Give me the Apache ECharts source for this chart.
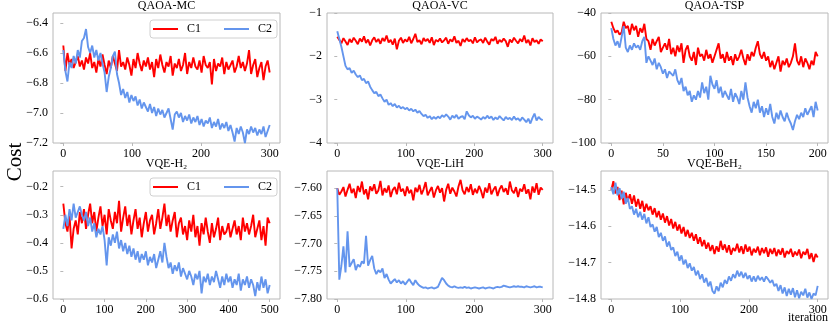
<!DOCTYPE html>
<html><head><meta charset="utf-8">
<script src="https://cdn.jsdelivr.net/npm/echarts@6/dist/echarts.min.js"></script>
<style>html,body{margin:0;padding:0;background:#fff}#c{width:830px;height:325px}</style>
</head><body><div id="c"></div>
<script>
// ---------- data ----------
const titles = ['QAOA-MC', 'QAOA-VC', 'QAOA-TSP', 'VQE-H₂', 'VQE-LiH', 'VQE-BeH₂'];
const seriesNames = ['C1', 'C2'];
const iterStep = [3, 3, 2, 5, 3, 3];
const xTickLabels = [[0,100,200,300],[0,100,200,300],[0,50,100,150,200],[0,100,200,300,400,500],[0,100,200,300],[0,100,200,300]];
const yTickLabels = [[-7.2,-7.0,-6.8,-6.6,-6.4],[-4,-3,-2,-1],[-100,-80,-60,-40],[-0.6,-0.5,-0.4,-0.3,-0.2],[-7.80,-7.75,-7.70,-7.65,-7.60],[-14.8,-14.7,-14.6,-14.5]];
const xExtent = [[-15,315],[-15,315],[-10,210],[-25,525],[-15,315],[-15,315]];
const yExtent = [[-7.2,-6.333],[-4,-1],[-100,-40],[-0.6,-0.144],[-7.80,-7.569],[-14.8,-14.448]];
const yDecimals = [1, 0, 0, 1, 2, 1];

const mcC1 = [
-6.55,-6.72,-6.60,-6.68,-6.64,-6.70,-6.66,-6.62,-6.69,-6.65,
-6.71,-6.63,-6.67,-6.60,-6.70,-6.66,-6.73,-6.64,-6.69,-6.61,
-6.68,-6.74,-6.65,-6.70,-6.62,-6.67,-6.72,-6.58,-6.69,-6.66,
-6.71,-6.63,-6.68,-6.75,-6.64,-6.70,-6.60,-6.67,-6.72,-6.65,
-6.69,-6.63,-6.71,-6.66,-6.76,-6.64,-6.70,-6.61,-6.68,-6.73,
-6.66,-6.69,-6.62,-6.75,-6.67,-6.70,-6.64,-6.72,-6.68,-6.60,
-6.74,-6.66,-6.70,-6.63,-6.69,-6.71,-6.65,-6.73,-6.62,-6.68,
-6.70,-6.66,-6.81,-6.64,-6.72,-6.67,-6.69,-6.63,-6.74,-6.66,
-6.71,-6.68,-6.65,-6.73,-6.69,-6.62,-6.70,-6.66,-6.72,-6.67,
-6.58,-6.74,-6.68,-6.64,-6.76,-6.70,-6.66,-6.78,-6.69,-6.65,
-6.73];
const mcC2 = [
-6.58,-6.72,-6.79,-6.66,-6.70,-6.62,-6.67,-6.58,-6.63,-6.52,
-6.50,-6.44,-6.56,-6.60,-6.55,-6.63,-6.58,-6.65,-6.60,-6.67,
-6.73,-6.86,-6.76,-6.70,-6.62,-6.59,-6.74,-6.80,-6.88,-6.84,
-6.90,-6.86,-6.93,-6.88,-6.92,-6.89,-6.95,-6.91,-6.97,-6.93,
-6.96,-6.99,-6.94,-7.00,-6.96,-7.02,-6.97,-7.01,-6.98,-7.03,
-7.00,-6.97,-7.04,-7.11,-7.01,-6.99,-7.03,-7.00,-7.06,-7.02,
-7.05,-7.01,-7.07,-7.03,-7.06,-7.02,-7.08,-7.04,-7.09,-7.05,
-7.07,-7.03,-7.10,-7.06,-7.09,-7.04,-7.11,-7.07,-7.10,-7.06,
-7.12,-7.08,-7.13,-7.19,-7.10,-7.14,-7.09,-7.13,-7.20,-7.11,
-7.14,-7.09,-7.13,-7.10,-7.15,-7.11,-7.14,-7.09,-7.16,-7.12,
-7.08];
const vcC1 = [
-1.55,-1.62,-1.70,-1.58,-1.66,-1.74,-1.60,-1.68,-1.57,-1.64,
-1.72,-1.59,-1.66,-1.54,-1.69,-1.61,-1.75,-1.63,-1.56,-1.67,
-1.60,-1.71,-1.58,-1.65,-1.52,-1.68,-1.62,-1.73,-1.59,-1.84,
-1.64,-1.57,-1.69,-1.61,-1.66,-1.55,-1.70,-1.60,-1.48,-1.67,
-1.63,-1.72,-1.58,-1.65,-1.60,-1.69,-1.56,-1.74,-1.62,-1.66,
-1.59,-1.68,-1.63,-1.57,-1.71,-1.61,-1.66,-1.54,-1.69,-1.64,
-1.76,-1.60,-1.67,-1.58,-1.65,-1.62,-1.70,-1.56,-1.68,-1.63,
-1.61,-1.69,-1.57,-1.66,-1.73,-1.60,-1.64,-1.55,-1.71,-1.62,
-1.67,-1.59,-1.65,-1.78,-1.61,-1.68,-1.57,-1.64,-1.70,-1.60,
-1.66,-1.52,-1.69,-1.62,-1.75,-1.58,-1.67,-1.63,-1.71,-1.61,
-1.65];
const vcC2 = [
-1.42,-1.60,-1.78,-2.00,-2.22,-2.30,-2.27,-2.38,-2.33,-2.42,
-2.48,-2.44,-2.55,-2.52,-2.62,-2.58,-2.70,-2.78,-2.85,-2.82,
-2.92,-2.88,-2.97,-3.05,-3.00,-3.12,-3.08,-3.15,-3.10,-3.18,
-3.14,-3.20,-3.17,-3.22,-3.19,-3.25,-3.21,-3.27,-3.23,-3.30,
-3.26,-3.33,-3.38,-3.35,-3.42,-3.38,-3.45,-3.40,-3.44,-3.39,
-3.43,-3.36,-3.40,-3.34,-3.39,-3.46,-3.37,-3.42,-3.35,-3.44,
-3.40,-3.38,-3.45,-3.27,-3.36,-3.41,-3.37,-3.44,-3.39,-3.42,
-3.46,-3.40,-3.44,-3.37,-3.43,-3.39,-3.47,-3.41,-3.45,-3.38,
-3.43,-3.48,-3.40,-3.45,-3.42,-3.47,-3.39,-3.46,-3.43,-3.49,
-3.41,-3.46,-3.52,-3.44,-3.55,-3.42,-3.32,-3.48,-3.40,-3.45,
-3.47];
const tspC1 = [
-44,-47,-49,-48,-50,-49,-44,-47,-46,-50,
-45,-48,-46,-51,-47,-49,-45,-52,-53,-57,
-52,-55,-53,-51,-58,-56,-54,-57,-52,-59,
-56,-60,-55,-58,-54,-63,-57,-55,-60,-62,
-58,-64,-56,-60,-59,-62,-57,-61,-59,-63,
-60,-57,-54,-61,-59,-63,-58,-62,-60,-64,
-59,-62,-60,-57,-61,-64,-59,-62,-58,-60,
-56,-53,-59,-61,-58,-62,-60,-65,-62,-66,
-63,-60,-67,-62,-64,-61,-65,-63,-60,-54,
-62,-64,-60,-65,-61,-63,-66,-62,-64,-58,
-60];
const tspC2 = [
-47,-52,-55,-53,-56,-51,-46,-56,-58,-55,
-57,-54,-56,-55,-57,-53,-51,-63,-60,-62,
-64,-61,-66,-63,-65,-68,-66,-70,-67,-68,
-69,-66,-71,-73,-70,-76,-74,-78,-76,-81,
-78,-80,-76,-79,-72,-77,-74,-80,-69,-73,
-75,-71,-77,-74,-79,-76,-78,-80,-75,-81,
-77,-79,-82,-76,-80,-72,-79,-83,-86,-81,
-84,-80,-86,-83,-88,-84,-87,-82,-88,-91,
-86,-89,-85,-88,-90,-86,-89,-91,-94,-90,
-87,-89,-86,-88,-84,-87,-85,-83,-88,-81,
-85];
const h2C1 = [
-0.26,-0.33,-0.36,-0.30,-0.42,-0.35,-0.32,-0.37,-0.29,-0.33,
-0.28,-0.35,-0.30,-0.26,-0.33,-0.29,-0.36,-0.31,-0.27,-0.34,
-0.30,-0.37,-0.28,-0.32,-0.35,-0.29,-0.33,-0.25,-0.36,-0.31,
-0.27,-0.34,-0.30,-0.37,-0.32,-0.28,-0.35,-0.31,-0.38,-0.33,
-0.29,-0.36,-0.32,-0.30,-0.37,-0.33,-0.28,-0.35,-0.31,-0.26,
-0.34,-0.30,-0.36,-0.32,-0.29,-0.38,-0.33,-0.31,-0.37,-0.34,
-0.39,-0.32,-0.36,-0.30,-0.38,-0.34,-0.41,-0.33,-0.37,-0.31,
-0.36,-0.40,-0.33,-0.38,-0.35,-0.31,-0.39,-0.34,-0.37,-0.36,
-0.33,-0.38,-0.35,-0.32,-0.37,-0.34,-0.39,-0.31,-0.36,-0.33,
-0.37,-0.34,-0.30,-0.38,-0.35,-0.32,-0.39,-0.34,-0.41,-0.31,
-0.33];
const h2C2 = [
-0.35,-0.30,-0.34,-0.28,-0.32,-0.26,-0.31,-0.29,-0.27,-0.30,
-0.32,-0.29,-0.34,-0.31,-0.36,-0.33,-0.38,-0.35,-0.37,-0.34,
-0.39,-0.48,-0.38,-0.41,-0.37,-0.40,-0.36,-0.42,-0.39,-0.43,
-0.40,-0.44,-0.41,-0.45,-0.42,-0.46,-0.43,-0.47,-0.44,-0.46,
-0.43,-0.48,-0.45,-0.47,-0.44,-0.49,-0.46,-0.43,-0.47,-0.40,
-0.45,-0.49,-0.47,-0.51,-0.48,-0.50,-0.47,-0.52,-0.49,-0.51,
-0.53,-0.50,-0.52,-0.55,-0.51,-0.53,-0.50,-0.58,-0.52,-0.54,
-0.51,-0.55,-0.52,-0.54,-0.50,-0.53,-0.56,-0.52,-0.55,-0.51,
-0.54,-0.52,-0.56,-0.53,-0.55,-0.51,-0.57,-0.53,-0.55,-0.52,
-0.56,-0.53,-0.55,-0.59,-0.54,-0.57,-0.52,-0.56,-0.53,-0.58,
-0.55];
const lihC1 = [
-7.600,-7.612,-7.606,-7.598,-7.615,-7.603,-7.592,-7.609,-7.601,-7.618,
-7.596,-7.607,-7.588,-7.611,-7.602,-7.620,-7.597,-7.605,-7.593,-7.610,
-7.604,-7.587,-7.613,-7.600,-7.608,-7.595,-7.616,-7.603,-7.598,-7.611,
-7.590,-7.606,-7.601,-7.614,-7.597,-7.609,-7.603,-7.622,-7.599,-7.607,
-7.594,-7.611,-7.602,-7.589,-7.613,-7.605,-7.598,-7.617,-7.604,-7.596,
-7.608,-7.600,-7.624,-7.603,-7.592,-7.610,-7.599,-7.606,-7.615,-7.597,
-7.585,-7.604,-7.611,-7.598,-7.607,-7.593,-7.612,-7.601,-7.609,-7.596,
-7.605,-7.618,-7.599,-7.608,-7.591,-7.611,-7.603,-7.597,-7.614,-7.602,
-7.595,-7.607,-7.600,-7.612,-7.588,-7.604,-7.609,-7.598,-7.616,-7.601,
-7.606,-7.593,-7.610,-7.602,-7.620,-7.597,-7.608,-7.591,-7.612,-7.599,
-7.603];
const lihC2 = [
-7.600,-7.765,-7.740,-7.705,-7.752,-7.678,-7.742,-7.735,-7.728,-7.748,
-7.738,-7.742,-7.732,-7.736,-7.686,-7.740,-7.730,-7.722,-7.745,-7.755,
-7.748,-7.752,-7.745,-7.762,-7.755,-7.765,-7.772,-7.768,-7.764,-7.770,
-7.766,-7.772,-7.768,-7.774,-7.769,-7.764,-7.770,-7.775,-7.766,-7.772,
-7.776,-7.778,-7.780,-7.779,-7.781,-7.780,-7.779,-7.781,-7.780,-7.778,
-7.770,-7.762,-7.766,-7.772,-7.776,-7.778,-7.779,-7.777,-7.779,-7.780,
-7.779,-7.780,-7.778,-7.780,-7.779,-7.781,-7.780,-7.779,-7.780,-7.781,
-7.780,-7.779,-7.781,-7.780,-7.779,-7.780,-7.781,-7.779,-7.778,-7.779,
-7.778,-7.776,-7.777,-7.778,-7.779,-7.778,-7.777,-7.778,-7.777,-7.778,
-7.778,-7.779,-7.777,-7.778,-7.779,-7.778,-7.777,-7.779,-7.778,-7.778,
-7.779];
const beh2C1 = [
-14.500,-14.476,-14.510,-14.492,-14.528,-14.502,-14.540,-14.508,-14.530,-14.512,
-14.538,-14.515,-14.546,-14.525,-14.552,-14.530,-14.560,-14.538,-14.556,-14.545,
-14.568,-14.550,-14.575,-14.558,-14.582,-14.565,-14.590,-14.572,-14.598,-14.580,
-14.606,-14.588,-14.612,-14.595,-14.620,-14.602,-14.628,-14.610,-14.632,-14.618,
-14.640,-14.622,-14.648,-14.630,-14.655,-14.638,-14.662,-14.645,-14.668,-14.652,
-14.676,-14.655,-14.670,-14.640,-14.665,-14.650,-14.672,-14.652,-14.678,-14.660,
-14.668,-14.648,-14.672,-14.655,-14.676,-14.650,-14.670,-14.656,-14.680,-14.662,
-14.672,-14.656,-14.680,-14.660,-14.674,-14.658,-14.684,-14.662,-14.676,-14.660,
-14.682,-14.664,-14.678,-14.660,-14.686,-14.668,-14.676,-14.662,-14.684,-14.670,
-14.680,-14.664,-14.688,-14.670,-14.678,-14.662,-14.690,-14.674,-14.698,-14.676,
-14.686];
const beh2C2 = [
-14.492,-14.512,-14.480,-14.515,-14.495,-14.525,-14.505,-14.538,-14.522,-14.552,
-14.545,-14.568,-14.552,-14.575,-14.560,-14.582,-14.566,-14.592,-14.575,-14.602,
-14.595,-14.615,-14.602,-14.630,-14.618,-14.640,-14.628,-14.656,-14.642,-14.665,
-14.658,-14.682,-14.670,-14.695,-14.680,-14.705,-14.692,-14.715,-14.702,-14.722,
-14.712,-14.735,-14.722,-14.745,-14.732,-14.755,-14.742,-14.765,-14.752,-14.778,
-14.785,-14.765,-14.778,-14.755,-14.768,-14.748,-14.758,-14.738,-14.750,-14.732,
-14.742,-14.722,-14.738,-14.725,-14.742,-14.728,-14.745,-14.735,-14.752,-14.738,
-14.752,-14.736,-14.748,-14.740,-14.752,-14.738,-14.746,-14.755,-14.748,-14.765,
-14.758,-14.778,-14.762,-14.785,-14.768,-14.792,-14.772,-14.788,-14.770,-14.795,
-14.776,-14.798,-14.780,-14.790,-14.772,-14.796,-14.782,-14.800,-14.785,-14.790,
-14.764];

const panelData = [[mcC1, mcC2], [vcC1, vcC2], [tspC1, tspC2], [h2C1, h2C2], [lihC1, lihC2], [beh2C1, beh2C2]];

// ---------- layout / style ----------
const FONT = '"Liberation Serif", "DejaVu Serif", serif';
const COLORS = ['#ff0000', '#6495ed'];
const gridBoxes = [
  {left: 53, top: 13, width: 227, height: 130},
  {left: 327, top: 13, width: 226, height: 130},
  {left: 601, top: 13, width: 227, height: 130},
  {left: 53, top: 171, width: 227, height: 128},
  {left: 327, top: 171, width: 226, height: 128},
  {left: 601, top: 171, width: 227, height: 128}
];
const fmtNum = (v, d) => (v < 0 ? '\u2212' : '') + Math.abs(v).toFixed(d);

const grid = [], xAxis = [], yAxis = [], series = [], graphic = [];
gridBoxes.forEach((g, i) => {
  grid.push(Object.assign({show: true, borderColor: '#b8b8b8', borderWidth: 1, backgroundColor: '#fff'}, g));
  xAxis.push({
    type: 'value', gridIndex: i, min: xExtent[i][0], max: xExtent[i][1],
    axisLine: {show: false}, splitLine: {show: false},
    axisTick: {show: true, length: 3, customValues: xTickLabels[i], lineStyle: {color: '#b8b8b8'}},
    axisLabel: {customValues: xTickLabels[i], formatter: v => String(v), color: '#000', fontFamily: FONT, fontSize: 12, margin: 5}
  });
  yAxis.push({
    type: 'value', gridIndex: i, min: yExtent[i][0], max: yExtent[i][1],
    axisLine: {show: false}, splitLine: {show: false},
    axisTick: {show: true, length: 3, customValues: yTickLabels[i], lineStyle: {color: '#b8b8b8'}},
    axisLabel: {customValues: yTickLabels[i], formatter: v => fmtNum(v, yDecimals[i]), color: '#000', fontFamily: FONT, fontSize: 12, margin: 5}
  });
  panelData[i].forEach((vals, k) => {
    series.push({
      name: seriesNames[k], type: 'line', xAxisIndex: i, yAxisIndex: i,
      data: vals.map((v, j) => [j * iterStep[i], v]),
      showSymbol: false, symbol: 'none', smooth: false,
      lineStyle: {color: COLORS[k], width: 1.9}, itemStyle: {color: COLORS[k]},
      z: 2 + k, silent: true
    });
  });
  graphic.push({
    type: 'text', x: g.left + g.width / 2, y: g.top - 1,
    style: {text: titles[i], fill: '#000', font: '12px ' + FONT, textAlign: 'center', textVerticalAlign: 'bottom'}
  });
});
graphic.push({
  type: 'text', x: 15, y: 162, rotation: Math.PI / 2,
  style: {text: 'Cost', fill: '#000', font: '21px ' + FONT, textAlign: 'center', textVerticalAlign: 'middle'}
});
graphic.push({
  type: 'text', x: 828, y: 318,
  style: {text: 'iteration', fill: '#000', font: '12px ' + FONT, textAlign: 'right', textVerticalAlign: 'middle'}
});

const legendBase = {
  data: seriesNames, orient: 'horizontal', icon: 'rect', itemWidth: 25, itemHeight: 2, itemGap: 23,
  textStyle: {fontFamily: FONT, fontSize: 12, color: '#000', padding: [0, 0, 0, 4]},
  backgroundColor: 'rgba(255,255,255,0.8)', borderColor: '#d0d0d0', borderWidth: 1, borderRadius: 3,
  padding: [3, 5, 3, 3], selectedMode: false
};
const legend = [
  Object.assign({left: 150, top: 20}, legendBase),
  Object.assign({left: 150, top: 178}, legendBase)
];

const chart = echarts.init(document.getElementById('c'), null, {renderer: 'canvas'});
chart.setOption({animation: false, backgroundColor: '#fff', grid, xAxis, yAxis, series, legend, graphic});
</script></body></html>
